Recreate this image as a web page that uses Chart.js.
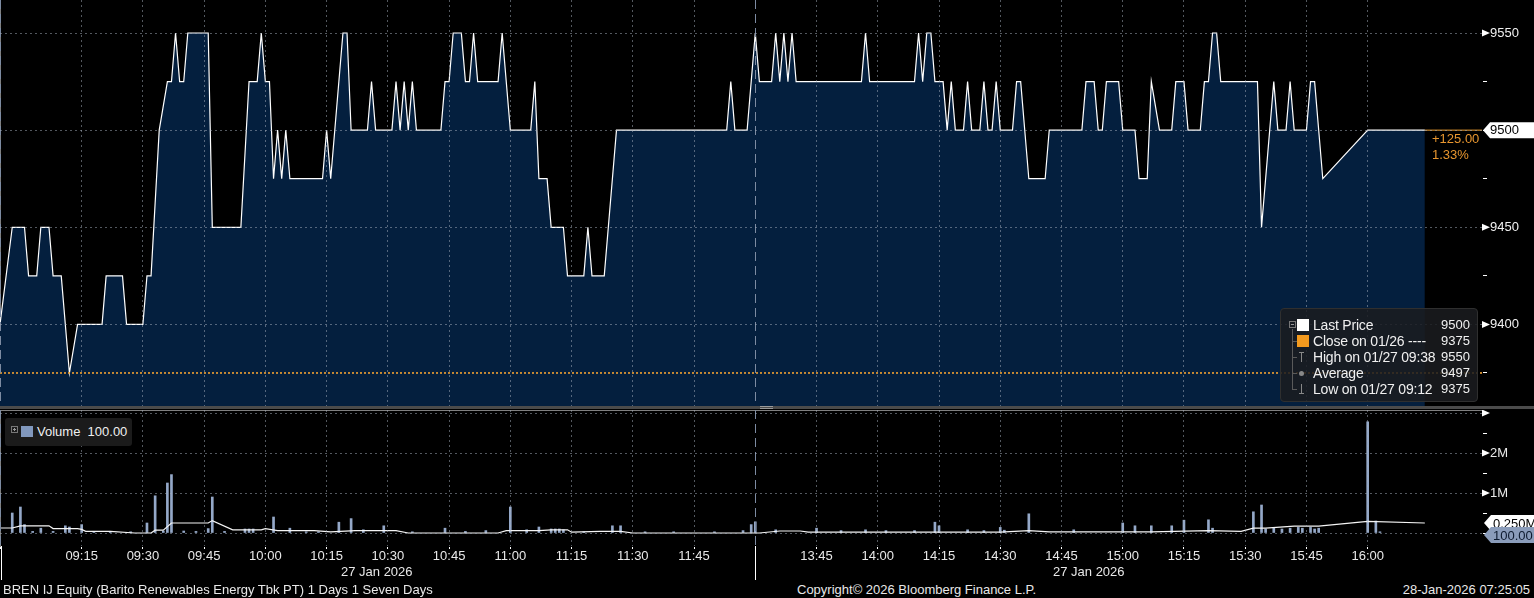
<!DOCTYPE html>
<html>
<head>
<meta charset="utf-8">
<script src="https://cdn.jsdelivr.net/npm/chart.js@4.4.1/dist/chart.umd.min.js"></script>
<style>
  html, body { margin: 0; padding: 0; background: #000; }
  body { width: 1534px; height: 598px; position: relative; overflow: hidden;
         font-family: "Liberation Sans", Arial, sans-serif; font-size: 13px; color: #e8e8e8; }
  canvas { position: absolute; left: 0; }
  #priceCanvas { top: 0; }
  #volCanvas { top: 410px; }
  .sep { position: absolute; left: 0; top: 406px; width: 1534px; height: 3px; background: #4b4b4b; }
  .grip { position: absolute; left: 760px; top: 406px; width: 13px; height: 1px; border-top: 1px solid #9a9a9a; border-bottom: 1px solid #9a9a9a; }
  .txt { position: absolute; white-space: nowrap; line-height: 16px; }
  .orange { color: #e8962f; }

  #pxLegend { position: absolute; left: 1280px; top: 308px; width: 198px; height: 94px; box-sizing: border-box;
              background: rgba(27,28,31,0.86); border: 1px solid #2f2f2f; border-radius: 4px; }
  #pxLegend .row { position: absolute; left: 0; right: 0; height: 16px; line-height: 16px; }
  #pxLegend .lbl { position: absolute; left: 32px; color: #f0f0f0; font-size: 14px; letter-spacing: -0.2px; }
  #pxLegend .val { position: absolute; right: 7px; color: #f0f0f0; font-size: 13px; }
  #pxLegend .sw { position: absolute; left: 16px; top: 2px; width: 12px; height: 12px; }
  .tree { position: absolute; left: 11px; top: 20px; width: 1px; height: 60px; background: #5a5a5a; }
  .stub { position: absolute; left: 11px; width: 5px; height: 1px; background: #5a5a5a; }
  .boxicon { position: absolute; width: 7px; height: 7px; border: 1px solid #777; box-sizing: border-box; }
  .boxicon::after { content: ""; position: absolute; left: 1px; top: 2px; width: 3px; height: 1px; background: #999; }
  .plus::before { content: ""; position: absolute; left: 2px; top: 1px; width: 1px; height: 3px; background: #999; }
  .hi, .lo { position: absolute; left: 20px; width: 1px; height: 10px; background: #888; }
  .hi::after, .lo::after { content: ""; position: absolute; left: -2px; width: 5px; height: 1px; background: #888; }
  .hi::after { top: 0; }
  .lo::after { bottom: 0; }
  .avg { position: absolute; left: 18px; top: 6px; width: 5px; height: 5px; border-radius: 3px; background: #888; }

  #volLegend { position: absolute; left: 5px; top: 418px; width: 127px; height: 28px;
               background: #1b1b1b; border-radius: 3px; }
  .vline { position: absolute; width: 1px; background: #fff; }
</style>
</head>
<body>
<canvas id="priceCanvas" width="1534" height="406"></canvas>
<div class="sep"></div>
<div class="grip"></div>
<canvas id="volCanvas" width="1534" height="172"></canvas>

<div class="txt orange" style="left:1432px; top:131px;">+125.00</div>
<div class="txt orange" style="left:1432px; top:147px;">1.33%</div>

<div id="pxLegend">
  <div class="boxicon" style="left:8px; top:12px;"></div>
  <div class="tree"></div>
  <div class="stub" style="top:32px"></div>
  <div class="stub" style="top:48px"></div>
  <div class="stub" style="top:64px"></div>
  <div class="stub" style="top:80px"></div>
  <div class="row" style="top:8px"><span class="sw" style="background:#fff"></span><span class="lbl">Last Price</span><span class="val">9500</span></div>
  <div class="row" style="top:24px"><span class="sw" style="background:#f39a1e"></span><span class="lbl">Close on 01/26 ----</span><span class="val">9375</span></div>
  <div class="row" style="top:40px"><span class="hi" style="top:3px"></span><span class="lbl">High on 01/27 09:38</span><span class="val">9550</span></div>
  <div class="row" style="top:56px"><span class="avg"></span><span class="lbl">Average</span><span class="val">9497</span></div>
  <div class="row" style="top:72px"><span class="lo" style="top:3px"></span><span class="lbl">Low on 01/27 09:12</span><span class="val">9375</span></div>
</div>

<div id="volLegend">
  <div class="boxicon plus" style="left:6px; top:8px;"></div>
  <div style="position:absolute; left:16px; top:8px; width:12px; height:11px; background:#8198bd;"></div>
  <div class="txt" style="left:32px; top:6px; color:#f0f0f0;">Volume&nbsp; 100.00</div>
</div>

<div class="vline" style="left:1px; top:546px; height:34px;"></div>
<div class="vline" style="left:755px; top:546px; height:34px;"></div>

<div class="txt" style="left:341px; top:564px;">27 Jan 2026</div>
<div class="txt" style="left:1053px; top:564px;">27 Jan 2026</div>

<div class="txt" style="left:3px; top:582px;">BREN IJ Equity (Barito Renewables Energy Tbk PT) 1 Days 1 Seven Days</div>
<div class="txt" style="left:797px; top:582px;">Copyright&copy; 2026 Bloomberg Finance L.P.</div>
<div class="txt" style="right:4px; top:582px;">28-Jan-2026 07:25:05</div>

<script>
// morning session prices (IDX session 1)
const amTimes = ['08:55','08:58','09:01','09:02','09:04','09:05','09:07','09:08','09:10','09:12','09:14','09:20',
  '09:21','09:25','09:26','09:30','09:31','09:32','09:34','09:36','09:37','09:38','09:39','09:40','09:41','09:46',
  '09:47','09:54','09:56','09:58','09:59','10:00','10:01','10:02','10:03','10:04','10:05','10:06','10:14','10:15',
  '10:16','10:19','10:20','10:21','10:25','10:26','10:27','10:31','10:32','10:33','10:34','10:35','10:36','10:37',
  '10:43','10:44','10:45','10:46','10:48','10:49','10:50','10:51','10:52','10:57','10:58','11:00','11:05','11:06',
  '11:07','11:09','11:10','11:13','11:14','11:18','11:19','11:20','11:23','11:26','11:53','11:54','11:55','11:58'];
const amPrices = [9400,9450,9450,9425,9425,9450,9450,9425,9425,9375,9400,9400,
  9425,9425,9400,9400,9425,9425,9500,9525,9525,9550,9525,9525,9550,9550,
  9450,9450,9525,9525,9550,9525,9525,9475,9500,9475,9500,9475,9475,9500,
  9475,9550,9550,9500,9500,9525,9500,9500,9525,9500,9525,9500,9525,9500,
  9500,9525,9525,9550,9550,9525,9525,9550,9525,9525,9550,9500,9500,9525,
  9475,9475,9450,9450,9425,9425,9450,9425,9425,9500,9500,9525,9500,9500];

// afternoon session prices
const pmTimes = ['13:30','13:31','13:34','13:35','13:36','13:37','13:38','13:39','13:40','13:56','13:57','13:58',
  '14:09','14:10','14:11','14:12','14:13','14:14','14:16','14:17','14:18','14:19','14:21','14:22','14:23','14:25',
  '14:26','14:27','14:28','14:29','14:30','14:33','14:34','14:35','14:37','14:41','14:42','14:50','14:51','14:53',
  '14:54','14:55','14:56','14:59','15:00','15:03','15:04','15:06','15:07','15:09','15:12','15:13','15:15','15:16',
  '15:19','15:20','15:21','15:22','15:23','15:24','15:33','15:34','15:37','15:38','15:40','15:41','15:42','15:45',
  '15:46','15:47','15:49','16:00','16:14'];
const pmPrices = [9550,9525,9525,9550,9525,9550,9525,9550,9525,9525,9550,9525,
  9525,9550,9525,9550,9550,9525,9525,9500,9525,9500,9500,9525,9500,9500,
  9525,9500,9500,9525,9500,9500,9525,9525,9475,9475,9500,9500,9525,9525,
  9500,9500,9525,9525,9500,9500,9475,9475,9525,9500,9500,9525,9525,9500,
  9500,9525,9525,9550,9550,9525,9525,9450,9525,9500,9500,9525,9500,9500,
  9525,9525,9475,9500,9500];

const prevClose = 9375;
const lastPrice = 9500;
const lastTime = '16:14';
const priceTicks = [9375, 9400, 9425, 9450, 9475, 9500, 9525, 9550];

// volume bars, millions of shares
const volTimes = ['08:58','09:00','09:01','09:03','09:05','09:08','09:11','09:12','09:15','09:18','09:22','09:27',
  '09:31','09:33','09:35','09:36','09:37','09:40','09:43','09:46','09:47','09:50','09:55','09:56','09:57','10:02',
  '10:06','10:10','10:13','10:18','10:21','10:24','10:29','10:36','10:44','10:49','10:54','11:00','11:04','11:07',
  '11:10','11:11','11:12','11:13','11:18','11:25','11:27','11:33','11:40','11:50','11:57','11:59',
  '13:30','13:35','13:45','13:51','13:57','14:02','14:09','14:14','14:15','14:22','14:26','14:30','14:31','14:37',
  '14:48','15:00','15:03','15:07','15:12','15:15','15:21','15:22','15:32','15:34','15:35','15:37','15:39','15:41',
  '15:43','15:44','15:46','15:47','15:48','16:00','16:02','16:03'];
const volValues = [0.50,0.65,0.21,0.04,0.12,0.04,0.18,0.15,0.21,0.03,0.03,0.03,
  0.25,0.93,0.05,1.25,1.46,0.05,0.04,0.11,0.90,0.04,0.10,0.10,0.10,0.40,
  0.12,0.03,0.03,0.27,0.36,0.08,0.18,0.03,0.12,0.04,0.06,0.65,0.08,0.15,
  0.10,0.10,0.10,0.08,0.03,0.18,0.18,0.03,0.03,0.03,0.06,0.21,
  0.28,0.08,0.12,0.06,0.08,0.06,0.06,0.27,0.18,0.08,0.06,0.14,0.07,0.48,
  0.08,0.25,0.18,0.18,0.18,0.32,0.33,0.12,0.53,0.70,0.10,0.12,0.10,0.12,
  0.14,0.12,0.14,0.10,0.12,2.78,0.30,0.03];

// volume average line, millions
const avgTimes = ['08:55','08:58','09:00','09:07','09:08','09:14','09:15','09:16','09:22','09:28','09:32','09:33',
  '09:35','09:37','09:46','09:47','09:52','09:59','10:00','10:03','10:12','10:16','10:22','10:32','10:35','10:57',
  '10:59','11:07','11:10','11:14','11:15','11:22','11:27','11:30','11:58','13:31','13:36','13:41','13:43','14:30',
  '14:37','14:42','15:07','15:21','15:29','15:32','15:35','15:42','15:48','16:00','16:14'];
const avgValues = [0.125,0.125,0.18,0.18,0.11,0.11,0.09,0.04,0.04,0.00,0.00,0.07,
  0.07,0.25,0.25,0.31,0.08,0.08,0.11,0.06,0.06,0.03,0.06,0.06,0.00,0.00,
  0.06,0.06,0.08,0.08,0.02,0.04,0.04,0.00,0.00,0.00,0.05,0.05,0.02,0.02,
  0.06,0.03,0.03,0.06,0.04,0.12,0.12,0.17,0.17,0.29,0.25];
const lastVolume = 0.0001;
const volTicks = [0, 0.5, 1, 1.5, 2, 2.5, 3];

const xTickLabels = ['09:15','09:30','09:45','10:00','10:15','10:30','10:45','11:00','11:15','11:30','11:45',
  '13:45','14:00','14:15','14:30','14:45','15:00','15:15','15:30','15:45','16:00'];
const sessionBreaks = ['08:55', '13:30'];

const FONT = '"Liberation Sans", Arial, sans-serif';
const NAVY = '#041f3e';
const ORANGE = '#f0a032';
const GRID = 'rgba(165,175,190,0.5)';
const SESSION = '#7d8ba2';
const VOL_BLUE = '#94a8c8';
const X_MIN = 0, X_MAX = 363;

Chart.defaults.font.family = FONT;
Chart.defaults.font.size = 13;
Chart.defaults.color = '#e8e8e8';
Chart.defaults.animation = false;

// minutes since 08:55, lunch break (12:00-13:30) squeezed out
function tradingMin(hhmm) {
  const [h, m] = hhmm.split(':').map(Number);
  let t = h * 60 + m;
  if (t >= 13 * 60 + 30) t -= 90;
  return t - (8 * 60 + 55);
}
const toPoints = (times, vals) => times.map((t, i) => ({ x: tradingMin(t), y: vals[i] }));

const sessionVals = sessionBreaks.map(tradingMin);
const xLabelMap = new Map(xTickLabels.map(t => [tradingMin(t), t]));
const xTickValues = sessionVals.concat([...xLabelMap.keys()]).sort((a, b) => a - b);
const isSession = c => c.tick && sessionVals.includes(c.tick.value);

// no label padding, the plot must fill the panel edge to edge
function noPad(s) { s.paddingTop = 0; s.paddingBottom = 0; s.paddingLeft = 0; s.paddingRight = 0; }

function xScale(showLabels) {
  return {
    type: 'linear', min: X_MIN, max: X_MAX, offset: false,
    afterBuildTicks: s => { s.ticks = xTickValues.map(v => ({ value: v })); },
    ticks: {
      display: showLabels, autoSkip: false, maxRotation: 0, padding: 0, color: '#e8e8e8',
      callback: v => xLabelMap.get(v) || ''
    },
    grid: {
      offset: false,
      color: c => isSession(c) ? SESSION : GRID, lineWidth: 1, z: 1,
      drawTicks: showLabels, tickLength: 3, tickColor: '#fff'
    },
    border: { display: showLabels, color: '#fff', dash: c => isSession(c) ? [9, 5] : [2, 3] },
    afterFit: s => { s.height = showLabels ? 36 : 0; noPad(s); }
  };
}

function arrow(ctx, x, y) {
  ctx.fillStyle = '#fff';
  ctx.beginPath();
  ctx.moveTo(x, y - 3.5); ctx.lineTo(x + 8, y); ctx.lineTo(x, y + 3.5);
  ctx.closePath(); ctx.fill();
}
function tag(ctx, x, y, bg, text, fg) {
  const h = 16;
  ctx.fillStyle = bg;
  ctx.beginPath();
  ctx.moveTo(x, y); ctx.lineTo(x + 7, y - h / 2); ctx.lineTo(1534, y - h / 2);
  ctx.lineTo(1534, y + h / 2); ctx.lineTo(x + 7, y + h / 2);
  ctx.closePath(); ctx.fill();
  if (text) {
    ctx.fillStyle = fg; ctx.font = '13px ' + FONT; ctx.textBaseline = 'middle'; ctx.textAlign = 'left';
    ctx.fillText(text, x + 9, y + 1);
  }
}

const priceDecor = {
  id: 'priceDecor',
  afterDatasetsDraw(chart) {
    const { ctx, scales: { y }, chartArea } = chart;
    ctx.save();
    priceTicks.filter(v => v % 50 === 0 && v !== lastPrice)
      .forEach(v => arrow(ctx, chartArea.right, y.getPixelForValue(v)));
    tag(ctx, chartArea.right + 1, y.getPixelForValue(lastPrice), '#fff');
    ctx.restore();
  }
};

new Chart(document.getElementById('priceCanvas'), {
  type: 'line',
  data: {
    datasets: [
      { data: [{ x: tradingMin(lastTime), y: lastPrice }, { x: X_MAX, y: lastPrice }],
        borderColor: ORANGE, borderWidth: 1, pointRadius: 0, fill: false, order: 0 },
      { data: [{ x: X_MIN, y: prevClose }, { x: X_MAX, y: prevClose }],
        borderColor: ORANGE, borderWidth: 1.6, borderDash: [2, 2], pointRadius: 0, fill: false, order: 1 },
      { data: toPoints(amTimes, amPrices).concat(toPoints(pmTimes, pmPrices)),
        borderColor: '#fff', borderWidth: 1.2, backgroundColor: NAVY, fill: 'start',
        pointRadius: 0, tension: 0, order: 2 }
    ]
  },
  options: {
    responsive: false, devicePixelRatio: 1,
    layout: { padding: 0 },
    plugins: { legend: { display: false }, tooltip: { enabled: false } },
    scales: {
      x: xScale(false),
      y: {
        position: 'right', min: 9358, max: 9567,
        afterBuildTicks: s => { s.ticks = priceTicks.map(v => ({ value: v })); },
        afterFit: s => { s.width = 52; noPad(s); },
        ticks: {
          z: 2, padding: 3,
          callback: v => v % 50 === 0 ? String(v) : '',
          color: c => c.tick && c.tick.value === lastPrice ? '#000' : '#f0f0f0'
        },
        grid: {
          z: 1, tickLength: 5, tickColor: '#fff',
          color: c => c.tick && c.tick.value % 50 === 0 ? GRID : 'rgba(0,0,0,0)'
        },
        border: { color: '#fff', width: 1, dash: [2, 3] }
      }
    }
  },
  plugins: [priceDecor]
});

const volDecor = {
  id: 'volDecor',
  afterDraw(chart) {
    const { ctx, scales: { y }, chartArea } = chart;
    ctx.save();
    volTicks.filter(v => v >= 1 && Number.isInteger(v))
      .forEach(v => arrow(ctx, chartArea.right, y.getPixelForValue(v)));
    tag(ctx, chartArea.right + 2, y.getPixelForValue(avgValues[avgValues.length - 1]), '#fff', '0.250M', '#000');
    tag(ctx, chartArea.right + 2, y.getPixelForValue(lastVolume) + 2, '#8a9cba', '100.00', '#0d1a2e');
    ctx.restore();
  }
};

new Chart(document.getElementById('volCanvas'), {
  type: 'bar',
  data: {
    datasets: [
      { type: 'line', data: toPoints(avgTimes, avgValues), borderColor: '#f4f4f4', borderWidth: 1.2,
        pointRadius: 0, fill: false, order: 0 },
      { type: 'bar', data: toPoints(volTimes, volValues), backgroundColor: VOL_BLUE,
        barThickness: 2, order: 1 }
    ]
  },
  options: {
    responsive: false, devicePixelRatio: 1,
    layout: { padding: 0 },
    plugins: { legend: { display: false }, tooltip: { enabled: false } },
    scales: {
      x: xScale(true),
      y: {
        position: 'right', min: -0.325, max: 3.075,
        afterBuildTicks: s => { s.ticks = volTicks.map(v => ({ value: v })); },
        afterFit: s => { s.width = 52; noPad(s); },
        ticks: {
          padding: 3,
          callback: v => (v === 1 || v === 2) ? v + 'M' : ''
        },
        grid: {
          z: 1, tickLength: 5, tickColor: '#fff',
          color: c => c.tick && Number.isInteger(c.tick.value) ? GRID : 'rgba(0,0,0,0)'
        },
        border: { color: '#fff', width: 1, dash: [2, 3] }
      }
    }
  },
  plugins: [volDecor]
});
</script>
</body>
</html>
